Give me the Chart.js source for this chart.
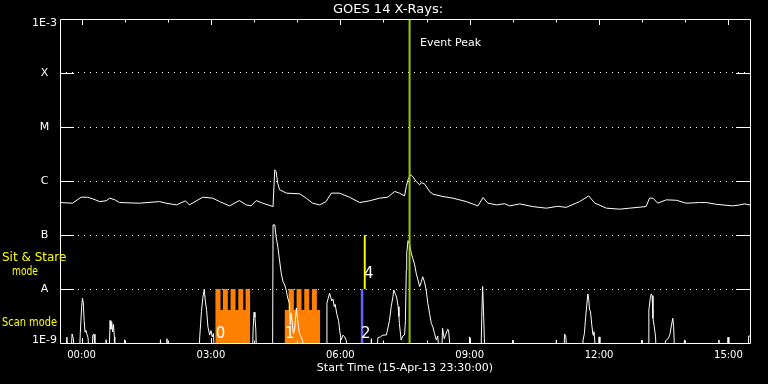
<!DOCTYPE html>
<html><head><meta charset="utf-8">
<script src="https://cdn.jsdelivr.net/npm/chart.js@4.4.1/dist/chart.umd.min.js"></script>
<style>html,body{margin:0;padding:0;background:#000;overflow:hidden;}canvas{display:block;}</style>
</head><body><canvas id="c" width="768" height="384"></canvas>
<script>
// ---------------- data ----------------
const chartTitle = 'GOES 14 X-Rays:';
const xAxisTitle = 'Start Time (15-Apr-13 23:30:00)';
const eventLabel = 'Event Peak';
const eventPeakHour = 7.606;              // hours after 00:00 (start 23:30 = -0.5)
const hourTicks = [0,1,2,3,4,5,6,7,8,9,10,11,12,13,14,15];
const majorHours = [0,3,6,9,12,15];
const majorLabels = ['00:00','03:00','06:00','09:00','12:00','15:00'];
const yTickValues = [1e-9,1e-8,1e-7,1e-6,1e-5,1e-4,1e-3];
const yTickLabels = ['1E-9','A','B','C','M','X','1E-3'];
const BELOW = 5e-10; // below plotted range

// long channel (1-8 A): [hour, W/m^2]
const longChannel = [
[-0.5,3.99e-7],[-0.21,3.88e-7],[-0.01,5.02e-7],[0.14,5.0e-7],[0.26,4.67e-7],[0.42,4.16e-7],[0.57,4.3e-7],[0.65,4.81e-7],[0.77,4.5e-7],[0.88,3.99e-7],
[1.34,3.88e-7],[1.81,4.16e-7],[1.96,3.88e-7],[2.20,3.61e-7],[2.41,4.29e-7],[2.50,3.61e-7],[2.81,5.02e-7],[3.04,4.81e-7],[3.20,4.16e-7],[3.43,3.46e-7],
[3.66,4.34e-7],[3.82,3.61e-7],[3.93,3.46e-7],[4.05,4.34e-7],[4.20,3.88e-7],[4.44,3.36e-7],[4.48,1.61e-6],[4.51,1.50e-6],[4.55,9.1e-7],[4.59,6.9e-7],
[4.75,5.96e-7],[5.06,5.78e-7],[5.21,4.81e-7],[5.36,3.88e-7],[5.52,3.61e-7],[5.67,4.16e-7],[5.79,5.96e-7],[5.98,5.96e-7],[6.21,5.02e-7],[6.45,3.99e-7],
[6.68,4.3e-7],[6.91,4.81e-7],[7.10,5.02e-7],[7.26,6.4e-7],[7.37,5.96e-7],[7.49,5.3e-7],[7.53,7.9e-7],[7.57,1.05e-6],[7.62,1.30e-6],[7.68,1.21e-6],
[7.76,9.8e-7],[7.84,8.5e-7],[7.88,9.3e-7],[7.95,8.9e-7],[8.07,6.4e-7],[8.15,5.7e-7],[8.38,5.15e-7],[8.61,4.81e-7],[8.92,4.16e-7],[9.19,3.46e-7],
[9.31,4.94e-7],[9.42,3.9e-7],[9.62,3.61e-7],[9.81,3.8e-7],[9.93,3.46e-7],[10.16,3.77e-7],[10.46,3.36e-7],[10.78,3.14e-7],[11.04,3.4e-7],[11.24,3.25e-7],
[11.55,4.16e-7],[11.76,5.3e-7],[11.90,3.9e-7],[12.17,3.14e-7],[12.48,3.01e-7],[12.71,3.14e-7],[13.09,3.36e-7],[13.17,4.81e-7],[13.25,4.81e-7],[13.36,3.88e-7],
[13.56,4.48e-7],[13.79,4.4e-7],[14.02,3.88e-7],[14.33,3.99e-7],[14.49,3.99e-7],[14.72,3.7e-7],[15.10,3.46e-7],[15.26,3.6e-7],[15.37,3.77e-7],[15.5,3.61e-7]
];

// short channel (0.5-4 A): [hour, W/m^2]
const shortChannel = [
[-0.5,BELOW],[-0.37,BELOW],[-0.34,1.28e-9],[-0.31,BELOW],[-0.25,BELOW],[-0.22,1.47e-9],[-0.19,1.2e-9],[-0.17,BELOW],
[-0.05,BELOW],[-0.03,1.5e-9],[0.00,4.5e-9],[0.02,6.74e-9],[0.04,5.5e-9],[0.06,2.6e-9],[0.08,1.6e-9],[0.10,1.7e-9],[0.12,1.5e-9],[0.15,1.25e-9],[0.18,BELOW],
[0.24,BELOW],[0.26,1.4e-9],[0.29,1.45e-9],[0.31,BELOW],
[0.55,BELOW],[0.57,1.15e-9],[0.59,BELOW],
[0.64,BELOW],[0.66,2.6e-9],[0.68,1.8e-9],[0.70,2.4e-9],[0.72,1.6e-9],[0.74,2.2e-9],[0.76,1.3e-9],[0.77,BELOW],
[0.98,BELOW],[1.00,1.15e-9],[1.02,BELOW],
[1.80,BELOW],[1.83,1.15e-9],[1.86,BELOW],
[1.96,BELOW],[1.98,1.2e-9],[2.00,BELOW],
[2.72,BELOW],[2.74,1.3e-9],[2.78,3.8e-9],[2.81,6.7e-9],[2.845,9.9e-9],[2.87,6.0e-9],[2.90,4.0e-9],[2.93,2.0e-9],[2.97,1.4e-9],[3.00,1.7e-9],[3.03,1.3e-9],[3.06,1.5e-9],[3.08,BELOW],
[3.96,BELOW],[3.98,2.0e-9],[4.00,3.71e-9],[4.02,3.0e-9],[4.04,1.8e-9],[4.06,BELOW],
[4.43,BELOW],[4.44,1.54e-7],[4.48,1.54e-7],[4.51,9.3e-8],[4.55,6.1e-8],[4.59,3.45e-8],[4.63,1.96e-8],[4.67,1.37e-8],[4.71,1.19e-8],[4.745,9.6e-9],[4.78,6.8e-9],[4.82,5.5e-9],[4.84,2.2e-9],[4.86,3.6e-9],[4.88,2.67e-9],[4.91,1.5e-9],[4.94,1.74e-9],[4.98,4.45e-9],[5.01,2.67e-9],[5.05,1.53e-9],[5.09,1.31e-9],[5.13,1.06e-9],[5.16,BELOW],
[5.68,BELOW],[5.69,5.5e-9],[5.75,8.34e-9],[5.78,7.0e-9],[5.80,6.0e-9],[5.83,6.5e-9],[5.86,4.71e-9],[5.88,5.2e-9],[5.92,3.4e-9],[5.96,2.59e-9],[5.99,1.6e-9],[6.02,1.14e-9],[6.06,1.4e-9],[6.10,1.3e-9],[6.14,1.1e-9],[6.16,BELOW],
[6.70,BELOW],[6.72,1.2e-9],[6.74,BELOW],
[6.85,BELOW],[6.87,1.25e-9],[6.93,1.3e-9],[6.99,1.4e-9],[7.07,1.41e-9],[7.14,2.6e-9],[7.18,4.71e-9],[7.22,7.2e-9],[7.24,9.6e-9],[7.28,8.0e-9],[7.31,6.8e-9],[7.34,4.7e-9],[7.36,3.1e-9],[7.37,2.3e-9],[7.41,1.14e-9],[7.45,1.35e-9],[7.49,1.41e-9],[7.51,2.59e-9],[7.53,2.25e-8],[7.54,4.6e-8],[7.57,7.87e-8],[7.61,6.55e-8],[7.645,4.6e-8],[7.68,3.72e-8],[7.72,2.9e-8],[7.76,1.96e-8],[7.80,1.47e-8],[7.84,1.11e-8],[7.88,1.37e-8],[7.91,1.69e-8],[7.95,1.37e-8],[7.99,9.6e-9],[8.03,5.44e-9],[8.07,3.5e-9],[8.11,2.32e-9],[8.145,2.0e-9],[8.185,1.5e-9],[8.225,1.14e-9],[8.26,1.35e-9],[8.30,BELOW],
[8.35,BELOW],[8.37,1.9e-9],[8.41,1.2e-9],[8.44,1.4e-9],[8.49,1.8e-9],[8.51,1.74e-9],[8.57,BELOW],
[8.98,BELOW],[9.00,1.3e-9],[9.02,BELOW],
[9.26,BELOW],[9.28,3.0e-9],[9.30,1.11e-8],[9.32,4e-9],[9.34,1.2e-9],[9.36,BELOW],
[9.98,BELOW],[10.00,1.14e-9],[10.02,BELOW],
[10.99,BELOW],[11.01,1.14e-9],[11.03,BELOW],
[11.18,BELOW],[11.20,1.47e-9],[11.23,1.3e-9],[11.26,BELOW],
[11.61,BELOW],[11.63,1.14e-9],[11.66,1.5e-9],[11.69,3.07e-9],[11.74,8.1e-9],[11.76,6.5e-9],[11.78,4.09e-9],[11.80,3.9e-9],[11.83,2.2e-9],[11.86,1.4e-9],[11.88,1.62e-9],[11.90,1.14e-9],[11.92,BELOW],
[11.98,BELOW],[12.00,1.3e-9],[12.02,BELOW],
[12.97,BELOW],[12.99,1.14e-9],[13.01,BELOW],
[13.14,BELOW],[13.155,4.09e-9],[13.19,7.03e-9],[13.21,8.1e-9],[13.23,7.5e-9],[13.25,2.87e-9],[13.28,2.0e-9],[13.31,1.3e-9],[13.33,BELOW],
[13.52,BELOW],[13.54,1.1e-9],[13.60,1.2e-9],[13.64,1.4e-9],[13.68,2.16e-9],[13.71,2.87e-9],[13.73,2.0e-9],[13.755,BELOW],
[13.96,BELOW],[13.98,1.14e-9],[14.00,BELOW],
[14.76,BELOW],[14.78,1.14e-9],[14.80,BELOW],
[14.97,BELOW],[14.99,1.28e-9],[15.01,BELOW],
[15.45,BELOW],[15.47,1.35e-9],[15.5,1.35e-9]
];

// instrument observing blocks
const obsLabels = ['0','1','2','4'];
const obsRows   = ['scan','scan','scan','sit'];
const obsTimes  = [
  [3.100,3.223,3.277,3.392,3.455,3.571,3.634,3.750,3.803,3.912],
  [4.707,4.800,4.923,4.986,5.101,5.164,5.280,5.340,5.456,5.535],
  [6.470,6.539],
  [6.539,6.592]
];
const obsTops = [
  [1e-8,4.1e-9,1e-8,4.1e-9,1e-8,4.1e-9,1e-8,4.1e-9,1e-8],
  [4.1e-9,1e-8,4.1e-9,1e-8,4.1e-9,1e-8,4.1e-9,1e-8,4.1e-9],
  [1e-8],
  [1e-7]
];
const rowNames = {scan:'Scan mode', sit:['Sit & Stare','mode']};

// ---------------- styles ----------------
const COL = {white:'#ffffff', yellow:'#ffff00', orange:'#ff8000', blue:'#6464ff', green:'#99cc00'};
const blockColors = [COL.orange, COL.orange, COL.blue, COL.yellow];
const rowBase = {scan:1e-9, sit:1e-8};
const rowLabelFlux = {scan:1.25e-9, sit:1.6e-8};
const FONT = '"DejaVu Sans", sans-serif';

function stepPoints(times, tops){
  return times.map((t,i)=>({x:t, y:tops[Math.min(i, tops.length-1)]}));
}
function squeezedText(ctx, text, x, y, width){
  const w = ctx.measureText(text).width;
  const sx = Math.min(1, width / w);
  ctx.save(); ctx.translate(x, y); ctx.scale(sx, 1); ctx.fillText(text, 0, 0); ctx.restore();
}

const datasets = [
  {label:'long', data:longChannel.map(([x,y])=>({x,y})), borderColor:COL.white, borderWidth:1, pointRadius:0, fill:false, order:0},
  {label:'short', data:shortChannel.map(([x,y])=>({x,y})), borderColor:COL.white, borderWidth:1, pointRadius:0, fill:false, order:0}
].concat(obsTimes.map((times,k)=>({
  label:'obs'+obsLabels[k], data:stepPoints(times, obsTops[k]), stepped:'before',
  borderWidth:0, borderColor:'rgba(0,0,0,0)', backgroundColor:blockColors[k],
  fill:{value:rowBase[obsRows[k]]}, pointRadius:0, order:1
})));

const deco = {
  id:'deco',
  afterDatasetsDraw(chart){
    const {ctx, chartArea:a, scales:{x, y}} = chart;
    ctx.save();
    ctx.fillStyle = COL.white; ctx.font = '15px ' + FONT; ctx.textAlign = 'left'; ctx.textBaseline = 'alphabetic';
    obsLabels.forEach((lab,k)=>{
      const bx = x.getPixelForValue(obsTimes[k][0]);
      const by = y.getPixelForValue(rowLabelFlux[obsRows[k]]);
      ctx.fillText(lab, bx + 0.5, by);
    });
    const px = x.getPixelForValue(eventPeakHour);
    ctx.strokeStyle = COL.green; ctx.lineWidth = 2;
    ctx.beginPath(); ctx.moveTo(px, a.top); ctx.lineTo(px, a.bottom); ctx.stroke();
    ctx.restore();
  },
  afterDraw(chart){
    const {ctx, chartArea:a, scales:{x, y}} = chart;
    ctx.save();
    ctx.strokeStyle = COL.white; ctx.lineWidth = 1;
    ctx.beginPath();
    ctx.rect(a.left + 0.5, a.top + 0.5, a.right - a.left, a.bottom - a.top);
    ctx.stroke();
    ctx.beginPath();
    hourTicks.forEach(h=>{
      const px = Math.round(x.getPixelForValue(h)) + 0.5;
      const len = majorHours.includes(h) ? 6 : 3.5;
      ctx.moveTo(px, a.top); ctx.lineTo(px, a.top + len);
      ctx.moveTo(px, a.bottom + 1); ctx.lineTo(px, a.bottom + 1 - len);
    });
    yTickValues.slice(1, -1).forEach(v=>{
      const py = Math.round(y.getPixelForValue(v)) + 0.5;
      ctx.moveTo(a.left, py); ctx.lineTo(a.left + 14, py);
      ctx.moveTo(a.right - 14, py); ctx.lineTo(a.right + 1, py);
    });
    ctx.stroke();
    ctx.fillStyle = COL.white; ctx.font = '11px ' + FONT; ctx.textAlign = 'center'; ctx.textBaseline = 'middle';
    yTickValues.forEach((v,i)=>{
      const py = Math.min(Math.max(y.getPixelForValue(v), a.top + 4), a.bottom - 3);
      ctx.fillText(yTickLabels[i], a.left - 15.5, py);
    });
    ctx.font = '13px ' + FONT;
    ctx.fillText(chartTitle, 388, 9.5);
    ctx.textAlign = 'left';
    ctx.font = '11px ' + FONT;
    ctx.fillText(eventLabel, x.getPixelForValue(eventPeakHour) + 10.5, a.top + 24);
    ctx.fillStyle = COL.yellow;
    ctx.font = '12px ' + FONT;
    squeezedText(ctx, rowNames.sit[0], 2, y.getPixelForValue(3.76e-8), 65);
    squeezedText(ctx, rowNames.sit[1], 12, y.getPixelForValue(2.1e-8), 26);
    squeezedText(ctx, rowNames.scan, 2, y.getPixelForValue(2.35e-9), 55);
    ctx.restore();
  }
};

new Chart(document.getElementById('c'), {
  type:'line',
  data:{datasets},
  options:{
    responsive:false, animation:false, devicePixelRatio:1,
    layout:{padding:{top:19, right:18, left:0, bottom:0}},
    plugins:{legend:{display:false}, tooltip:{enabled:false}, title:{display:false}},
    elements:{point:{radius:0}, line:{tension:0}},
    scales:{
      x:{
        type:'linear', min:-0.5, max:15.5,
        afterBuildTicks:s=>{ s.ticks = hourTicks.map(v=>({value:v})); },
        afterFit:s=>{ s.height = 41; },
        grid:{display:false, drawTicks:false}, border:{display:false},
        ticks:{color:COL.white, font:{family:'DejaVu Sans', size:10}, padding:6, maxRotation:0, autoSkip:false,
          callback:(v)=>{ const i = majorHours.indexOf(v); return i < 0 ? '' : majorLabels[i]; }},
        title:{display:true, text:xAxisTitle, color:COL.white, font:{family:'DejaVu Sans', size:11}, padding:{top:0, bottom:9}}
      },
      y:{
        type:'logarithmic', min:1e-9, max:1e-3,
        afterBuildTicks:s=>{ s.ticks = yTickValues.map(v=>({value:v})); },
        afterFit:s=>{ s.width = 60; },
        grid:{color:(c)=>(c.tick && c.tick.value > 1.01e-9 && c.tick.value < 0.99e-3) ? COL.white : 'rgba(0,0,0,0)', lineWidth:1, drawTicks:false},
        border:{display:false, dash:[1,5]},
        ticks:{display:false}
      }
    }
  },
  plugins:[deco]
});
</script>
</body></html>
